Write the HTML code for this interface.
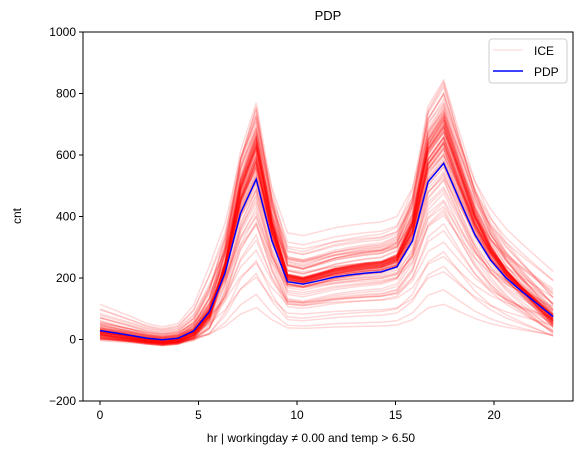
<!DOCTYPE html>
<html><head><meta charset="utf-8"><style>
body{margin:0;background:#fff}
svg{display:block;font-family:"Liberation Sans","DejaVu Sans",sans-serif}
</style></head><body>
<svg id="chart" width="583" height="455">
<text x="328" y="20" text-anchor="middle" font-size="13">PDP</text>
<g id="ice"></g>
<g id="pdp"></g>
<g id="axes"></g>
<rect x="83" y="32" width="490" height="369" fill="none" stroke="#000" stroke-width="1"/>
<text x="311" y="442" text-anchor="middle" font-size="12">hr | workingday ≠ 0.00 and temp &gt; 6.50</text>
<text transform="translate(21,216) rotate(-90)" text-anchor="middle" font-size="12">cnt</text>
<g>
<rect x="489" y="39" width="78" height="44" rx="3" fill="#fff" fill-opacity="0.8" stroke="#ccc"/>
<line x1="493" y1="50" x2="523" y2="50" stroke="red" stroke-opacity="0.12" stroke-width="1.5"/>
<text x="534" y="55" font-size="12">ICE</text>
<line x1="493" y1="71" x2="523" y2="71" stroke="blue" stroke-width="1.5"/>
<text x="534" y="76" font-size="12">PDP</text>
</g>
</svg>
<script>
const pdpValues=[29,21,13,4,-1,4,28,90,216,411,521,321,188,180,191,203,210,216,220,236,321,513,573,454,340,258,200,156,115,74];
const iceScale=[0.2,0.3,0.35,0.45,0.5,0.55,0.6,0.65,0.7,0.72,0.75,0.78,0.8,0.82,0.85,0.87,0.9,0.92,0.95,0.97,1.0,1.02,1.05,1.07,1.1,1.12,1.15,1.17,1.2,1.22,1.25,1.27,1.3,1.32,1.35,1.38,1.4,1.42,1.45,1.5,1.55,0.9,1.0,1.1,1.2,1.3,0.95,1.05,1.15,1.25,1.35,1.4,1.3,1.2,1.1,1.0,0.4,0.6,0.85,1.45,
1.18,1.22,1.26,1.3,1.34,1.28,1.24,1.2,1.16,1.12,1.08,1.04,1.36,1.32,1.28,1.24,1.2,1.14,1.1,1.06,1.02,0.98,0.94,0.9,1.26,1.3,1.34,1.38,1.42,1.22,1.18,1.14,1.1,1.3,1.25,1.2,1.15,1.35,1.4,1.28];
const iceOffset=[0,-10,20,-20,30,-30,10,60,-25,40,-15,80,-35,25,0,100,-40,50,-10,120,5,-45,70,-20,140,-5,30,-30,60,-50,20,0,-20,40,-60,10,-40,30,-10,-30,-50,90,-55,110,-45,20,-25,15,-35,5,-60,-20,-45,-30,0,-10,40,60,-40,-30,
-20,-25,-30,-35,-40,-30,-20,-15,-10,-5,0,5,-45,-40,-35,-25,-30,-15,-10,-5,0,10,20,30,-40,-45,-50,-55,-60,-20,-15,-10,-5,-35,-25,-30,-20,-50,-55,-40];
const yTicks=[-200,0,200,400,600,800,1000];
const xTicks=[0,5,10,15,20];
const NS="http://www.w3.org/2000/svg";
const X=v=>100+v*19.7;
const Y=v=>339.5-v*0.3075;
const hrs=pdpValues.map((_,i)=>i*23/(pdpValues.length-1));
function pts(vals){return vals.map((v,i)=>X(hrs[i]).toFixed(1)+","+Y(v).toFixed(1)).join(" ");}
const ice=document.getElementById("ice");
iceScale.forEach((s,k)=>{
  const vals=pdpValues.map(v=>v*s+iceOffset[k]*Math.min(1,Math.max(0,v)/100+0.3));
  const p=document.createElementNS(NS,"polyline");
  p.setAttribute("points",pts(vals));
  p.setAttribute("fill","none");p.setAttribute("stroke","red");
  p.setAttribute("stroke-opacity","0.15");p.setAttribute("stroke-width","1.5");
  
  
  ice.appendChild(p);
});
const pl=document.createElementNS(NS,"polyline");
pl.setAttribute("points",pts(pdpValues));
pl.setAttribute("fill","none");pl.setAttribute("stroke","blue");pl.setAttribute("stroke-width","1.5");


document.getElementById("pdp").appendChild(pl);
const ax=document.getElementById("axes");
yTicks.forEach(t=>{
  const l=document.createElementNS(NS,"line");
  l.setAttribute("x1",79);l.setAttribute("x2",83);l.setAttribute("y1",Y(t));l.setAttribute("y2",Y(t));l.setAttribute("stroke","#000");
  
  
  ax.appendChild(l);
  const tx=document.createElementNS(NS,"text");
  tx.setAttribute("x",76);tx.setAttribute("y",Y(t)+4);tx.setAttribute("text-anchor","end");tx.setAttribute("font-size","12");
  tx.textContent=t<0?"\u2212"+(-t):t;
  
  
  ax.appendChild(tx);
});
xTicks.forEach(t=>{
  const l=document.createElementNS(NS,"line");
  l.setAttribute("x1",X(t));l.setAttribute("x2",X(t));l.setAttribute("y1",401);l.setAttribute("y2",405);l.setAttribute("stroke","#000");
  
  
  ax.appendChild(l);
  const tx=document.createElementNS(NS,"text");
  tx.setAttribute("x",X(t));tx.setAttribute("y",419);tx.setAttribute("text-anchor","middle");tx.setAttribute("font-size","12");
  tx.textContent=t;
  
  
  ax.appendChild(tx);
});
</script>
</body></html>
